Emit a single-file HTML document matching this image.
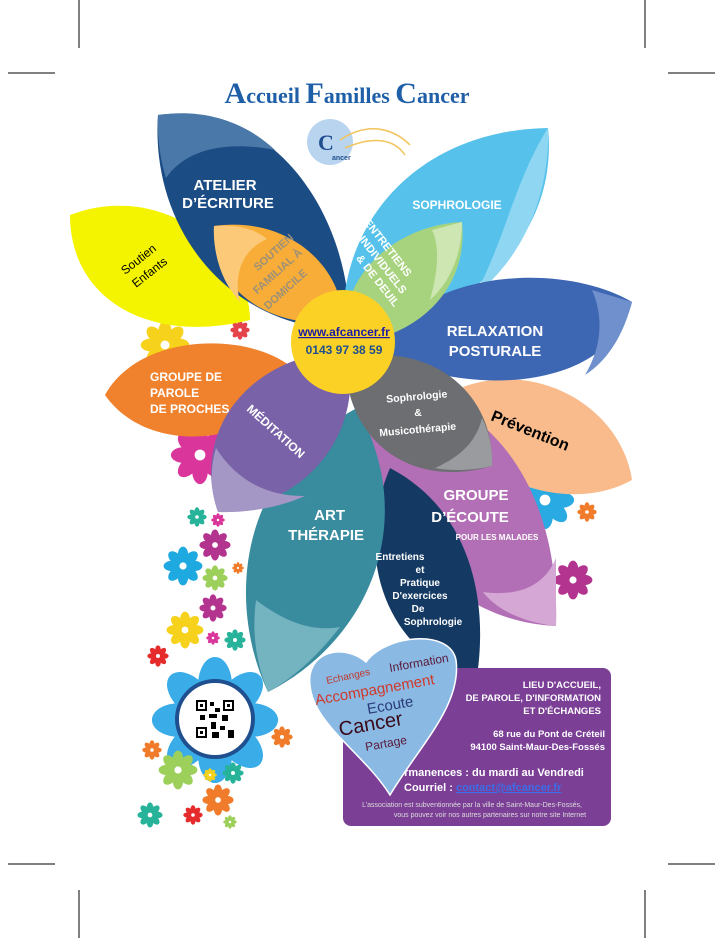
<!DOCTYPE html>
<html><head><meta charset="utf-8"><style>
body{margin:0;background:#fff}
svg{display:block}
text{font-family:"Liberation Sans",sans-serif;font-weight:bold}
</style></head><body>
<svg width="717" height="938" viewBox="0 0 717 938" xmlns="http://www.w3.org/2000/svg">
<defs>
<symbol id="fl" viewBox="-10 -10 20 20">
<g>
<ellipse cx="0" cy="-5.5" rx="2.6" ry="4.2"/>
<ellipse cx="0" cy="-5.5" rx="2.6" ry="4.2" transform="rotate(45)"/>
<ellipse cx="0" cy="-5.5" rx="2.6" ry="4.2" transform="rotate(90)"/>
<ellipse cx="0" cy="-5.5" rx="2.6" ry="4.2" transform="rotate(135)"/>
<ellipse cx="0" cy="-5.5" rx="2.6" ry="4.2" transform="rotate(180)"/>
<ellipse cx="0" cy="-5.5" rx="2.6" ry="4.2" transform="rotate(225)"/>
<ellipse cx="0" cy="-5.5" rx="2.6" ry="4.2" transform="rotate(270)"/>
<ellipse cx="0" cy="-5.5" rx="2.6" ry="4.2" transform="rotate(315)"/>
</g>
<circle r="1.8" fill="#fff"/>
</symbol>
</defs>
<g stroke="#000" stroke-width="1">
<line x1="79" y1="0" x2="79" y2="48"/><line x1="645" y1="0" x2="645" y2="48"/>
<line x1="8" y1="73" x2="55" y2="73"/><line x1="668" y1="73" x2="715" y2="73"/>
<line x1="8" y1="864" x2="55" y2="864"/><line x1="668" y1="864" x2="715" y2="864"/>
<line x1="79" y1="890" x2="79" y2="938"/><line x1="645" y1="890" x2="645" y2="938"/>
</g>
<text x="347" y="103" text-anchor="middle" fill="#1f5fa8" style="font-family:'Liberation Serif',serif;font-size:22px"><tspan font-size="30">A</tspan>ccueil <tspan font-size="30">F</tspan>amilles <tspan font-size="30">C</tspan>ancer</text>
<circle cx="330" cy="142" r="23" fill="#b9d4ee"/>
<path d="M340,140 C370,120 395,130 410,145 M345,148 C375,135 395,140 405,155" stroke="#f2c45a" stroke-width="1.5" fill="none"/>
<text x="318" y="150" fill="#1f4f8e" style="font-family:'Liberation Serif',serif;font-size:22px">C</text>
<text x="332" y="160" fill="#1f4f8e" style="font-size:7px">ancer</text>
<g>
<use href="#fl" x="170" y="425" width="60" height="60" fill="#d9359b"/>
<use href="#fl" x="187" y="507" width="20" height="20" fill="#27b39a"/>
<use href="#fl" x="211" y="513" width="14" height="14" fill="#d9359b"/>
<use href="#fl" x="199" y="529" width="32" height="32" fill="#b2348f"/>
<use href="#fl" x="163" y="546" width="40" height="40" fill="#1fa9e1"/>
<use href="#fl" x="202" y="565" width="26" height="26" fill="#9dd05a"/>
<use href="#fl" x="232" y="562" width="12" height="12" fill="#f07c2b"/>
<use href="#fl" x="199" y="594" width="28" height="28" fill="#b2348f"/>
<use href="#fl" x="166" y="611" width="38" height="38" fill="#f7d21c"/>
<use href="#fl" x="206" y="631" width="14" height="14" fill="#d9359b"/>
<use href="#fl" x="224" y="629" width="22" height="22" fill="#27b39a"/>
<use href="#fl" x="147" y="645" width="22" height="22" fill="#e52b2b"/>
<use href="#fl" x="150" y="655" width="130" height="130" fill="#3aace8"/>
<use href="#fl" x="142" y="740" width="20" height="20" fill="#f07c2b"/>
<use href="#fl" x="158" y="750" width="40" height="40" fill="#9dd05a"/>
<use href="#fl" x="203" y="768" width="14" height="14" fill="#f7d21c"/>
<use href="#fl" x="222" y="762" width="22" height="22" fill="#27b39a"/>
<use href="#fl" x="202" y="784" width="32" height="32" fill="#f07c2b"/>
<use href="#fl" x="137" y="802" width="26" height="26" fill="#27b39a"/>
<use href="#fl" x="183" y="805" width="20" height="20" fill="#e52b2b"/>
<use href="#fl" x="223" y="815" width="14" height="14" fill="#9dd05a"/>
<use href="#fl" x="271" y="726" width="22" height="22" fill="#f07c2b"/>
<use href="#fl" x="553" y="560" width="40" height="40" fill="#b2348f"/>
<use href="#fl" x="577" y="502" width="20" height="20" fill="#f07c2b"/>
<use href="#fl" x="515" y="470" width="60" height="60" fill="#2aaae3"/>
<use href="#fl" x="140" y="320" width="50" height="50" fill="#f7d21c"/>
<use href="#fl" x="230" y="320" width="20" height="20" fill="#e5434b"/>
</g>
<circle cx="215" cy="719" r="38" fill="#fff" stroke="#1f4f8e" stroke-width="4"/>
<rect x="196" y="700" width="38" height="38" fill="#fff"/>
<g fill="#000">
<rect x="196" y="700" width="11" height="11"/><rect x="223" y="700" width="11" height="11"/><rect x="196" y="727" width="11" height="11"/>
<rect x="210" y="702" width="4" height="4"/><rect x="215" y="708" width="5" height="4"/><rect x="209" y="714" width="8" height="4"/>
<rect x="200" y="715" width="5" height="5"/><rect x="222" y="715" width="6" height="6"/><rect x="211" y="722" width="5" height="7"/>
<rect x="220" y="726" width="5" height="4"/><rect x="228" y="730" width="6" height="8"/><rect x="212" y="732" width="7" height="6"/>
</g>
<g fill="#fff"><rect x="198" y="702" width="7" height="7"/><rect x="225" y="702" width="7" height="7"/><rect x="198" y="729" width="7" height="7"/></g>
<g fill="#000"><rect x="200" y="704" width="3" height="3"/><rect x="227" y="704" width="3" height="3"/><rect x="200" y="731" width="3" height="3"/></g>
<!-- petals -->
<path d="M70,215 C160,180 250,250 250,320 C150,345 70,300 70,215Z" fill="#f4f400"/>
<path d="M632,480 C560,520 450,470 440,398 C520,350 620,400 632,480Z" fill="#f9bb8c"/>
<path d="M105,395 C140,330 260,330 300,375 C270,445 150,460 105,395Z" fill="#f0822d"/>
<path d="M158,115 C270,100 350,210 350,330 C230,330 150,230 158,115Z" fill="#1b4c84"/>
<path d="M158,115 C205,108 245,122 275,150 C225,140 185,150 166,178 C160,158 157,138 158,115Z" fill="#4a78a8"/>
<path d="M548,128 C560,250 450,330 343,326 C340,220 420,130 548,128Z" fill="#56c2eb"/>
<path d="M548,128 C550,200 520,260 475,295 C505,240 515,180 548,128Z" fill="#8fd6f3"/>
<path d="M632,302 C610,390 470,400 375,352 C420,270 560,260 632,302Z" fill="#3d66b3"/>
<path d="M632,302 C622,340 605,362 585,375 C603,345 603,315 592,290Z" fill="#6f90cc"/>
<path d="M368,380 C500,390 560,500 556,626 C430,620 360,500 368,380Z" fill="#b26fb5"/>
<path d="M556,626 C520,622 495,608 483,592 C520,597 545,585 556,558Z" fill="#d5a7d4"/>
<path d="M390,468 C470,510 490,600 476,682 C380,650 355,550 390,468Z" fill="#143a64"/>
<path d="M357,408 C420,520 370,640 268,692 C225,600 240,470 357,408Z" fill="#398b9e"/>
<path d="M268,692 C255,660 252,630 256,600 C285,622 312,632 340,627 C318,655 295,677 268,692Z" fill="#74b3c0"/>
<path d="M347,350 C365,430 310,505 218,512 C190,430 250,355 347,350Z" fill="#7a62a8"/>
<path d="M218,512 C210,490 210,468 216,448 C236,480 268,497 305,496 C280,507 250,513 218,512Z" fill="#a497c6"/>
<path d="M345,358 C440,340 495,400 492,466 C410,490 345,440 345,358Z" fill="#6c6e71"/>
<path d="M492,466 C470,471 450,471 435,468 C462,456 477,440 482,418 C490,434 493,450 492,466Z" fill="#9a9b9e"/>
<path d="M214,226 C290,215 345,270 342,322 C270,330 210,290 214,226Z" fill="#f7ad38"/>
<path d="M214,226 C240,224 256,230 267,239 C242,250 233,275 240,302 C222,282 213,256 214,226Z" fill="#fbc977"/>
<path d="M462,222 C470,300 400,345 343,342 C340,270 400,225 462,222Z" fill="#a7d27e"/>
<path d="M462,222 C462,255 450,282 430,300 C438,272 440,247 432,230Z" fill="#cde6b2"/>
<circle cx="343" cy="342" r="52" fill="#fcd125"/>
<g fill="#fff">
<text x="225" y="190" text-anchor="middle" font-size="15">ATELIER</text>
<text x="228" y="208" text-anchor="middle" font-size="15">D’ÉCRITURE</text>
<text x="457" y="209" text-anchor="middle" font-size="12">SOPHROLOGIE</text>
<text x="495" y="336" text-anchor="middle" font-size="15">RELAXATION</text>
<text x="495" y="356" text-anchor="middle" font-size="15">POSTURALE</text>
<text x="150" y="381" font-size="12">GROUPE DE</text>
<text x="150" y="397" font-size="12">PAROLE</text>
<text x="150" y="413" font-size="12">DE PROCHES</text>
<text x="345" y="520" text-anchor="end" font-size="15">ART</text>
<text x="364" y="540" text-anchor="end" font-size="15">THÉRAPIE</text>
<text x="476" y="500" text-anchor="middle" font-size="15">GROUPE</text>
<text x="470" y="522" text-anchor="middle" font-size="15">D’ÉCOUTE</text>
<text x="497" y="540" text-anchor="middle" font-size="8">POUR LES MALADES</text>
<g font-size="10" text-anchor="middle">
<text x="400" y="560">Entretiens</text><text x="420" y="573">et</text><text x="420" y="586">Pratique</text>
<text x="420" y="599">D'exercices</text><text x="418" y="612">De</text><text x="433" y="625">Sophrologie</text>
</g>
<g font-size="10.5" text-anchor="middle">
<text x="417" y="400" transform="rotate(-5 417 400)">Sophrologie</text>
<text x="418" y="416">&amp;</text>
<text x="418" y="433" transform="rotate(-5 418 433)">Musicothérapie</text>
</g>
<text x="246" y="410" font-size="12" transform="rotate(42 246 410)">MÉDITATION</text>
<g font-size="11" fill="#fff" text-anchor="middle">
<text x="385" y="250" transform="rotate(52 385 250)">ENTRETIENS</text>
<text x="380" y="267" transform="rotate(52 380 267)">INDIVIDUELS</text>
<text x="375" y="283" transform="rotate(52 375 283)">&amp; DE DEUIL</text>
</g>
</g>
<g fill="#9d9078" font-size="11" text-anchor="middle">
<text x="276" y="255" transform="rotate(-42 276 255)">SOUTIEN</text>
<text x="280" y="274" transform="rotate(-42 280 274)">FAMILIAL À</text>
<text x="288" y="292" transform="rotate(-42 288 292)">DOMICILE</text>
</g>
<text x="125" y="275" font-size="12" fill="#000" transform="rotate(-38 125 275)" style="font-weight:normal">Soutien</text>
<text x="136" y="288" font-size="12" fill="#000" transform="rotate(-38 136 288)" style="font-weight:normal">Enfants</text>
<text x="490" y="420" font-size="16" fill="#000" transform="rotate(22 490 420)">Prévention</text>
<text x="344" y="336" text-anchor="middle" font-size="12" fill="#1a1aa8" text-decoration="underline">www.afcancer.fr</text>
<text x="344" y="354" text-anchor="middle" font-size="12" fill="#1f4f8e">0143 97 38 59</text>
<rect x="343" y="668" width="268" height="158" rx="8" fill="#7b3f96"/>
<g fill="#fff" text-anchor="end" font-size="9.5">
<text x="601" y="688">LIEU D'ACCUEIL,</text>
<text x="601" y="701">DE PAROLE, D'INFORMATION</text>
<text x="601" y="714">ET D'ÉCHANGES</text>
<text x="605" y="737">68 rue du Pont de Créteil</text>
<text x="605" y="750">94100 Saint-Maur-Des-Fossés</text>
</g>
<text x="398" y="776" fill="#fff" font-size="11">ermanences : du mardi au Vendredi</text>
<text x="404" y="791" fill="#fff" font-size="11">Courriel : <tspan fill="#3b6ee8" text-decoration="underline">contact@afcancer.fr</tspan></text>
<text x="472" y="807" text-anchor="middle" fill="#ddd" font-size="7" style="font-weight:normal">L’association est subventionnée par la ville de Saint-Maur-Des-Fossés,</text>
<text x="490" y="817" text-anchor="middle" fill="#ddd" font-size="7" style="font-weight:normal">vous pouvez voir nos autres partenaires sur notre site Internet</text>
<path d="M390,795 C362,750 305,720 310,675 C315,648 348,646 366,662 C385,635 450,628 456,660 C462,705 420,745 390,795Z" fill="#8ab9e3" stroke="#fff" stroke-width="1.5"/>
<g>
<text x="327" y="684" font-size="10" fill="#c0392b" transform="rotate(-12 327 684)" style="font-weight:normal">Echanges</text>
<text x="390" y="672" font-size="12" fill="#5b1a3a" transform="rotate(-10 390 672)" style="font-weight:normal">Information</text>
<text x="316" y="705" font-size="15" fill="#d0392b" transform="rotate(-10 316 705)" style="font-weight:normal">Accompagnement</text>
<text x="368" y="714" font-size="15" fill="#2b3a7a" transform="rotate(-10 368 714)" style="font-weight:normal">Ecoute</text>
<text x="340" y="736" font-size="20" fill="#3a0a1a" transform="rotate(-10 340 736)" style="font-weight:normal">Cancer</text>
<text x="366" y="751" font-size="12" fill="#5b1a3a" transform="rotate(-10 366 751)" style="font-weight:normal">Partage</text>
</g>
</svg>
</body></html>
